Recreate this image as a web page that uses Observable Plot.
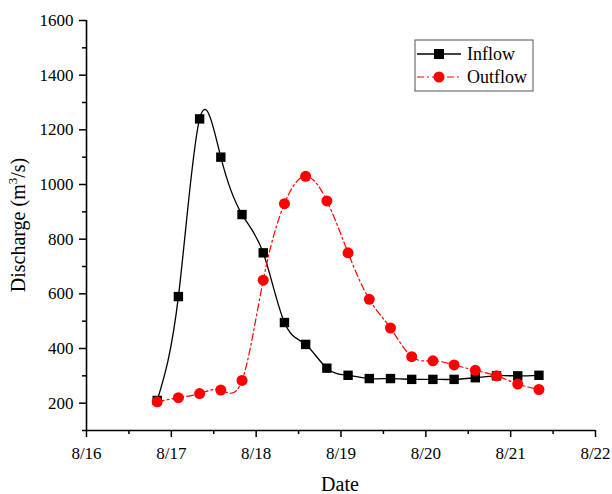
<!DOCTYPE html>
<html>
<head>
<meta charset="utf-8">
<script src="https://cdn.jsdelivr.net/npm/d3@7"></script>
<script src="https://cdn.jsdelivr.net/npm/@observablehq/plot@0.6"></script>
<style>
html,body{margin:0;padding:0;background:#fff;}
</style>
</head>
<body>
<div id="chart"></div>
<script>
const times = [
  "08-16 20:00","08-17 02:00","08-17 08:00","08-17 14:00","08-17 20:00",
  "08-18 02:00","08-18 08:00","08-18 14:00","08-18 20:00",
  "08-19 02:00","08-19 08:00","08-19 14:00","08-19 20:00",
  "08-20 02:00","08-20 08:00","08-20 14:00","08-20 20:00",
  "08-21 02:00","08-21 08:00"
];
const inflow = [210,590,1240,1100,890,750,495,415,328,302,290,290,287,287,287,293,300,300,302];
const outflow = [205,220,235,248,283,650,930,1030,940,750,580,475,370,355,340,320,300,270,250];
const xTickLabels = ["8/16","8/17","8/18","8/19","8/20","8/21","8/22"];
const yTicks = [200,400,600,800,1000,1200,1400,1600];
const seriesNames = ["Inflow","Outflow"];

const parse = s => {
  const [md, hm] = s.split(" ");
  const [m, d] = md.split("-").map(Number);
  const [h, mi] = hm.split(":").map(Number);
  return new Date(Date.UTC(2000, m - 1, d, h, mi));
};
const parseLabel = s => {
  const [m, d] = s.split("/").map(Number);
  return new Date(Date.UTC(2000, m - 1, d));
};
const dates = times.map(parse);
const inData = dates.map((t, i) => ({t, v: inflow[i]}));
const outData = dates.map((t, i) => ({t, v: outflow[i]}));
const xMajor = xTickLabels.map(parseLabel);
const xMinor = d3.utcHour.every(12).range(xMajor[0], xMajor[xMajor.length - 1]).filter(d => d.getUTCHours() === 12);
const yMinor = d3.range(100, 1600, 100).filter(v => v % 200 !== 0);
const fmt = d3.utcFormat("%-m/%-d");
const SERIF = "'Liberation Serif', 'Times New Roman', serif";

const chart = Plot.plot({
  width: 612,
  height: 494,
  marginLeft: 86,
  marginRight: 17,
  marginTop: 20,
  marginBottom: 64,
  style: {fontFamily: SERIF, fontSize: "17px", color: "#000", background: "#fff"},
  x: {type: "utc", domain: [xMajor[0], xMajor[xMajor.length - 1]]},
  y: {domain: [100, 1600]},
  marks: [
    Plot.axisY({ticks: yTicks, tickSize: 7, tickPadding: 6, tickFormat: d => String(d), label: null, fontSize: 17, strokeWidth: 1.5}),
    Plot.axisY({ticks: yMinor, tickSize: 4, text: null, label: null, strokeWidth: 1.5}),
    Plot.axisX({ticks: xMajor, tickSize: 7, tickPadding: 9, tickFormat: fmt, label: null, fontSize: 17, strokeWidth: 1.5}),
    Plot.axisX({ticks: xMinor, tickSize: 4, text: null, label: null, strokeWidth: 1.5}),
    Plot.ruleX([xMajor[0]], {stroke: "#000", strokeWidth: 1.6}),
    Plot.ruleY([100], {stroke: "#000", strokeWidth: 1.6}),
    Plot.line(inData, {x: "t", y: "v", stroke: "#000", strokeWidth: 1.3, curve: "natural"}),
    Plot.dot(inData, {x: "t", y: "v", symbol: "square", r: 5.3, fill: "#000", stroke: "none"}),
    Plot.line(outData, {x: "t", y: "v", stroke: "#ff0000", strokeWidth: 1.2, strokeDasharray: "7,3,2,3", curve: "natural"}),
    Plot.dot(outData, {x: "t", y: "v", r: 5.5, fill: "#ff0000", stroke: "none"})
  ]
});
document.getElementById("chart").appendChild(chart);

const svg = d3.select(chart);
svg.selectAll("text")
  .attr("font-size", 17).attr("font-family", SERIF)
  .style("font-family", SERIF).style("font-size", "17px").attr("fill", "#000");

// axis titles and legend
svg.append("text").attr("x", 340).attr("y", 491).attr("text-anchor", "middle")
  .style("font-family", SERIF).attr("font-size", 20).attr("fill", "#000").text("Date");
const yl = svg.append("text").attr("transform", "translate(25,225) rotate(-90)")
  .style("font-family", SERIF).attr("text-anchor", "middle").attr("font-size", 20).attr("fill", "#000");
yl.append("tspan").text("Discharge (m");
yl.append("tspan").attr("font-size", 13).attr("dy", -8).text("3");
yl.append("tspan").attr("dy", 8).text("/s)");

const lg = svg.append("g").attr("text-anchor", "start").style("font-family", SERIF);
lg.append("rect").attr("x", 415).attr("y", 40).attr("width", 118).attr("height", 51)
  .attr("fill", "#fff").attr("stroke", "#555").attr("stroke-width", 1);
lg.append("line").attr("x1", 417).attr("x2", 461).attr("y1", 54).attr("y2", 54)
  .attr("stroke", "#000").attr("stroke-width", 1.3);
lg.append("rect").attr("x", 434).attr("y", 49).attr("width", 10).attr("height", 10).attr("fill", "#000");
lg.append("text").attr("x", 467).attr("y", 60).attr("font-size", 18).attr("fill", "#000").text(seriesNames[0]);
lg.append("line").attr("x1", 417).attr("x2", 461).attr("y1", 77).attr("y2", 77)
  .attr("stroke", "#ff0000").attr("stroke-width", 1.2).attr("stroke-dasharray", "7,3,2,3");
lg.append("circle").attr("cx", 439).attr("cy", 77).attr("r", 5.5).attr("fill", "#ff0000");
lg.append("text").attr("x", 467).attr("y", 83).attr("font-size", 18).attr("fill", "#000").text(seriesNames[1]);
</script>
</body>
</html>
